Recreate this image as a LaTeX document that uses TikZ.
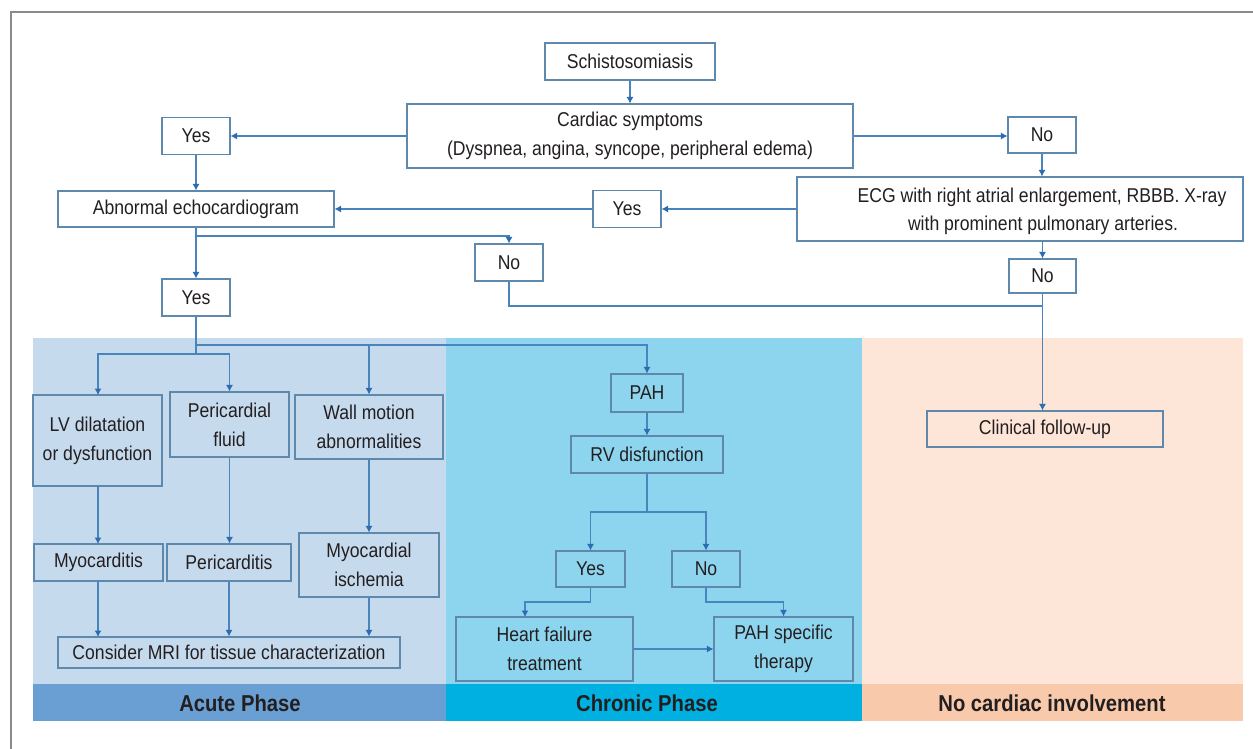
\documentclass[tikz,border=0pt]{standalone}
\usepackage{fontspec}
\setmainfont{Liberation Sans}[FakeStretch=0.88]
\usetikzlibrary{arrows.meta,calc}
\definecolor{boxc}{HTML}{5E88AC}
\definecolor{linec}{HTML}{4A84BD}
\definecolor{tipc}{HTML}{2C6DB2}
\definecolor{txt}{HTML}{231F20}
\definecolor{acuteP}{HTML}{C6DAEE}
\definecolor{acuteB}{HTML}{6A9FD3}
\definecolor{chronP}{HTML}{8DD5EE}
\definecolor{chronB}{HTML}{00B0E0}
\definecolor{noP}{HTML}{FDE5D8}
\definecolor{noB}{HTML}{F9C9AC}
\definecolor{frame}{HTML}{8A8A8A}
\tikzset{
  bx/.style={draw=boxc, line width=1.1pt, inner sep=0pt, align=center, text=txt,
    font=\fontsize{20}{29}\selectfont},
  wbx/.style={bx, fill=white},
  arr/.style={draw=linec, line width=1.1pt, -{Latex[length=6.5pt,width=7pt,color=tipc]}},
  ln/.style={draw=linec, line width=1.1pt},
  barlbl/.style={text=txt, font=\fontsize{23}{26}\selectfont\bfseries},
  plain/.style={text=txt, font=\fontsize{20}{29}\selectfont, inner sep=0pt}
}
\begin{document}
\begin{tikzpicture}[x=1pt,y=-1pt]
\useasboundingbox (0,0) rectangle (1253,749);
\fill[white] (0,0) rectangle (1253,749);
% outer frame
\draw[frame, line width=1.5pt] (11,749) -- (11,12) -- (1253,12);
% panels
\fill[acuteP] (33,338) rectangle (446,684);
\fill[acuteB] (33,684) rectangle (446,721);
\fill[chronP] (446,338) rectangle (862,684);
\fill[chronB] (446,684) rectangle (862,721);
\fill[noP] (862,338) rectangle (1243,684);
\fill[noB] (862,684) rectangle (1243,721);
\node[barlbl] (lacute) at (240,703) {Acute Phase};
\node[barlbl] (lchron) at (647,703) {Chronic Phase};
\node[barlbl] (lnone) at (1052,703) {No cardiac involvement};

% top part
\node[wbx, minimum width=170pt, minimum height=37pt] (schisto) at (630,61.5) {Schistosomiasis};
\node[wbx, minimum width=446pt, minimum height=64pt] (cardiac) at (630,136) {Cardiac symptoms\\(Dyspnea, angina, syncope, peripheral edema)};
\node[wbx, minimum width=68pt, minimum height=37pt] (yes1) at (196,136) {Yes};
\node[wbx, minimum width=68pt, minimum height=36pt] (no1) at (1042,135) {No};
\node[wbx, minimum width=446pt, minimum height=64pt] (ecg) at (1020,209) {};
\node[plain, anchor=base] (ecgt1) at (1042,202) {ECG with right atrial enlargement, RBBB. X-ray};
\node[plain, anchor=base] (ecgt2) at (1043,230) {with prominent pulmonary arteries.};
\node[wbx, minimum width=68pt, minimum height=37pt] (yes2) at (627,209) {Yes};
\node[wbx, minimum width=276pt, minimum height=36pt] (echo) at (196,209) {Abnormal echocardiogram};
\node[wbx, minimum width=68pt, minimum height=37pt] (no2) at (509,262.5) {No};
\node[wbx, minimum width=68pt, minimum height=37pt] (yes3) at (196,297.5) {Yes};
\node[wbx, minimum width=67pt, minimum height=34pt] (no3) at (1042.5,276) {No};

% acute
\node[bx, minimum width=129pt, minimum height=91pt] (lv) at (97.5,440.5) {LV dilatation\\or dysfunction};
\node[bx, minimum width=119pt, minimum height=65pt] (pf) at (229.5,424.5) {Pericardial\\fluid};
\node[bx, minimum width=148pt, minimum height=64pt] (wm) at (369,427) {Wall motion\\abnormalities};
\node[bx, minimum width=129pt, minimum height=37pt] (myo) at (98.5,562.5) {Myocarditis};
\node[bx, minimum width=124pt, minimum height=37pt] (peri) at (229,562.5) {Pericarditis};
\node[bx, minimum width=140pt, minimum height=64pt] (isch) at (369,565) {Myocardial\\ischemia};
\node[bx, minimum width=342pt, minimum height=31pt] (mri) at (229,652.5) {Consider MRI for tissue characterization};

% chronic
\node[bx, minimum width=72pt, minimum height=38pt] (pah) at (647,393) {PAH};
\node[bx, minimum width=152pt, minimum height=37pt] (rv) at (647,454.5) {RV disfunction};
\node[bx, minimum width=69pt, minimum height=36pt] (cyes) at (590.5,569) {Yes};
\node[bx, minimum width=68pt, minimum height=36pt] (cno) at (706,569) {No};
\node[bx, minimum width=177pt, minimum height=64pt] (hf) at (544.5,649) {Heart failure\\treatment};
\node[bx, minimum width=139pt, minimum height=64pt] (pahs) at (783.5,649) {PAH specific\\therapy};

% none
\node[bx, minimum width=236pt, minimum height=36pt] (follow) at (1045,429) {Clinical follow-up};

% connectors top
\draw[arr] (schisto.south) -- (cardiac.north);
\draw[arr] (cardiac.west) -- (yes1.east);
\draw[arr] (cardiac.east) -- (cardiac.east -| no1.west);
\draw[arr] (no1.south) -- (no1.south |- ecg.north);
\draw[arr] (ecg.west) -- (yes2.east);
\draw[arr] (yes2.west) -- (echo.east);
\draw[arr] (yes1.south) -- (echo.north);
\draw[arr] (echo.south) -- (yes3.north);
\coordinate (j1) at (196,236);
\draw[arr] (j1) -| (no2.north);
\draw[arr] (no3.north |- ecg.south) -- (no3.north);
\draw[arr] (no3.south) -- (no3.south |- follow.north);
\coordinate (j2) at (1043,306);
\draw[ln] (no2.south) |- (j2);

% acute connectors
\coordinate (j3) at (196,354);
\coordinate (j4) at (196,345);
\draw[ln] (yes3.south) -- (j3);
\draw[arr] (j3) -| (98,395);
\draw[arr] (j3) -| (pf.north);
\draw[arr] (j4) -| (wm.north);
\draw[arr] (j4) -| (pah.north);
\draw[arr] (98,486) -- (98,544);
\draw[arr] (pf.south) -- (pf.south |- peri.north);
\draw[arr] (wm.south) -- (isch.north);
\draw[arr] (98,581) -- (98,637);
\draw[arr] (peri.south) -- (peri.south |- mri.north);
\draw[arr] (isch.south) -- (isch.south |- mri.north);

% chronic connectors
\draw[arr] (pah.south) -- (rv.north);
\coordinate (j5) at (647,512);
\draw[ln] (rv.south) -- (j5);
\draw[arr] (j5) -| (cyes.north);
\draw[arr] (j5) -| (cno.north);
\draw[arr] (cyes.south) |- (525,602) -- (525,617);
\draw[arr] (cno.south) |- (pahs.north |- 0,602) -- (pahs.north);
\draw[arr] (hf.east) -- (pahs.west);
\end{tikzpicture}
\end{document}
